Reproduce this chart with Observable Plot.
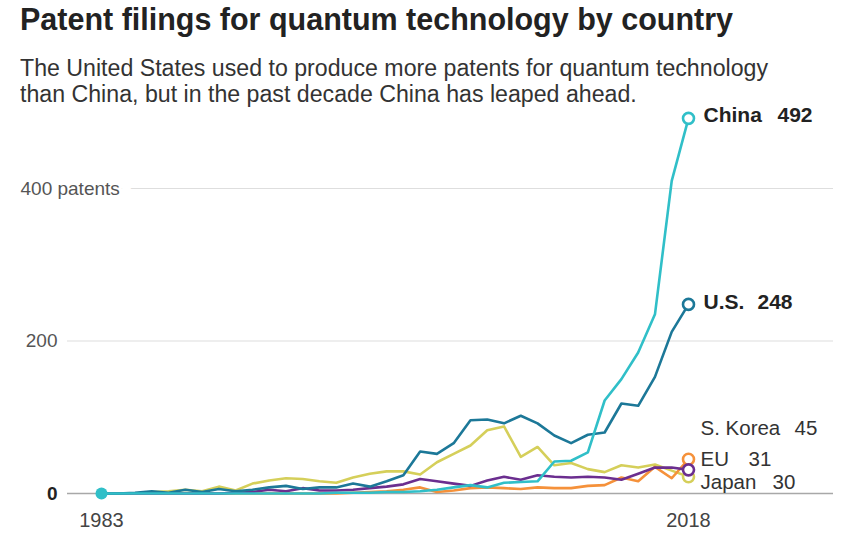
<!DOCTYPE html>
<html><head><meta charset="utf-8">
<script src="https://cdn.jsdelivr.net/npm/d3@7"></script>
<script src="https://cdn.jsdelivr.net/npm/@observablehq/plot@0.6"></script>
<style>
html,body{margin:0;padding:0;background:#fff;}
#wrap{position:relative;width:842px;height:534px;overflow:hidden;font-family:"Liberation Sans",Arial,sans-serif;}
#title{position:absolute;left:20px;top:4px;font-size:31px;line-height:31px;font-weight:bold;color:#222;white-space:nowrap;transform-origin:0 0;}
#sub{position:absolute;left:20px;top:55px;font-size:23px;line-height:26px;color:#333;white-space:nowrap;transform-origin:0 0;}
#chart{position:absolute;left:0;top:110px;}
</style></head><body>
<div id="wrap">
<div id="title"><span id="t1">Patent filings for quantum technology by country</span></div>
<div id="sub"><span id="sub1">The United States used to produce more patents for quantum technology</span><br>than China, but in the past decade China has leaped ahead.</div>
<div id="chart"></div>
</div>
<script>
const years = [1983,1984,1985,1986,1987,1988,1989,1990,1991,1992,1993,1994,1995,1996,1997,1998,1999,2000,2001,2002,2003,2004,2005,2006,2007,2008,2009,2010,2011,2012,2013,2014,2015,2016,2017,2018];
const china = [0,0,0,0,0,0,0,0,0,0,0,0,0,0,1,1,1,2,2,3,5,8,11,8,14,15,16,42,43,54,122,150,185,235,410,492];
const us    = [0,0,1,3,1,5,2,6,3,5,8,10,6,8,8,13,9,16,24,55,52,66,96,97,92,102,92,76,66,77,80,118,115,153,212,248];
const japan = [0,0,0,2,3,5,3,9,4,13,17,20,19,16,14,21,26,29,29,25,41,52,63,83,88,48,61,37,40,32,28,37,34,38,30,22];
const eu    = [0,0,0,0,0,0,0,0,1,2,5,3,7,4,4,5,7,9,12,19,16,13,10,17,22,18,24,22,21,22,21,18,26,34,34,31];
const korea = [0,0,0,0,0,0,0,0,0,0,0,0,0,0,0,1,2,3,5,8,2,4,7,8,7,6,8,7,7,10,11,21,16,35,20,45];

const countries = ["Japan","S. Korea","EU","U.S.","China"];
const colors = ["#d5cf5a","#f5913a","#6b2e8f","#1c7898","#30bfc8"];
const labelNames = ["China","U.S.","S. Korea","EU","Japan"];
const labelNumbers = ["492","248","45","31","30"];
const yTicks = [0,200,400];
const xTicks = [1983,2018];

// fit header text widths to the reference layout
function fitWidth(boxId, spanId, target) {
  const w = document.getElementById(spanId).getBoundingClientRect().width;
  document.getElementById(boxId).style.transform = `scaleX(${target / w})`;
}
fitWidth("title", "t1", 713);
fitWidth("sub", "sub1", 748);

const seriesByName = {"Japan":japan,"S. Korea":korea,"EU":eu,"U.S.":us,"China":china};
const last = years.length - 1;
const rows = countries.flatMap(c => years.map((yr,i) => ({country:c, year:yr, value:seriesByName[c][i]})));
const ends = countries.map(c => ({country:c, year:years[last], value:seriesByName[c][last]}));
const starts = [{country:"China", year:years[0], value:china[0]}];

// label layout (pixel offsets)
const layout = {
  "China":   {dy:-3,  nameDx:15, numDx:89,  bold:true,  size:21},
  "U.S.":    {dy:-2,  nameDx:15, numDx:69,  bold:true,  size:21},
  "S. Korea":{dy:-31, nameDx:12, numDx:106, bold:false, size:20.5},
  "EU":      {dy:-10, nameDx:12, numDx:60,  bold:false, size:20.5},
  "Japan":   {dy:6,   nameDx:12, numDx:84,  bold:false, size:20.5}
};
const labels = labelNames.map((n,i) => ({name:n, num:labelNumbers[i], year:years[last], value:seriesByName[n][last]}));

const labelMarks = labels.flatMap(d => {
  const L = layout[d.name];
  const common = {x: "year", y: "value", dy: L.dy, textAnchor: "start", fontSize: L.size,
    fontWeight: L.bold ? "bold" : "normal", fill: L.bold ? "#222" : "#333"};
  return [
    Plot.text([d], {...common, dx: L.nameDx, text: "name"}),
    Plot.text([d], {...common, dx: L.numDx, text: "num"})
  ];
});

const chart = Plot.plot({
  width: 842,
  height: 424,
  marginLeft: 67,
  marginRight: 9,
  marginTop: 0,
  marginBottom: 41,
  style: {fontFamily: "'Liberation Sans', Arial, sans-serif", background: "#fff", overflow: "visible"},
  x: {domain: [1983, 2018], range: [101, 688], axis: null},
  y: {domain: [0, 500], range: [383, 1.75], axis: null},
  color: {domain: countries, range: colors},
  marks: [
    Plot.ruleY(yTicks.filter(d => d > 0), {stroke: "#dedede", strokeWidth: 1.2}),
    Plot.ruleY([0], {stroke: "#a8a8a8", strokeWidth: 1.5}),
    Plot.text(yTicks.filter(d => d === 400), {y: d => d, frameAnchor: "left", dx: -47, textAnchor: "start", text: d => `${d} patents`, fill: "#555", fontSize: 19, stroke: "white", strokeWidth: 24, paintOrder: "stroke"}),
    Plot.text(yTicks.filter(d => d === 200), {y: d => d, frameAnchor: "left", dx: -10, textAnchor: "end", text: d => `${d}`, fill: "#555", fontSize: 19}),
    Plot.text(yTicks.filter(d => d === 0), {y: d => d, frameAnchor: "left", dx: -10, textAnchor: "end", text: d => `${d}`, fill: "#222", fontSize: 19, fontWeight: "bold"}),
    Plot.text(xTicks, {x: d => d, frameAnchor: "bottom", lineAnchor: "top", dy: 19, text: d => `${d}`, fill: "#444", fontSize: 20}),
    Plot.line(rows, {x: "year", y: "value", z: "country", stroke: "country", strokeWidth: 2.6, strokeLinejoin: "round", strokeLinecap: "round"}),
    Plot.dot(starts, {x: "year", y: "value", r: 6, fill: "country", stroke: "none"}),
    Plot.dot(ends, {x: "year", y: "value", r: 5.5, fill: "white", stroke: "country", strokeWidth: 2.6}),
    ...labelMarks
  ]
});

document.getElementById("chart").appendChild(chart);
</script>
</body></html>
